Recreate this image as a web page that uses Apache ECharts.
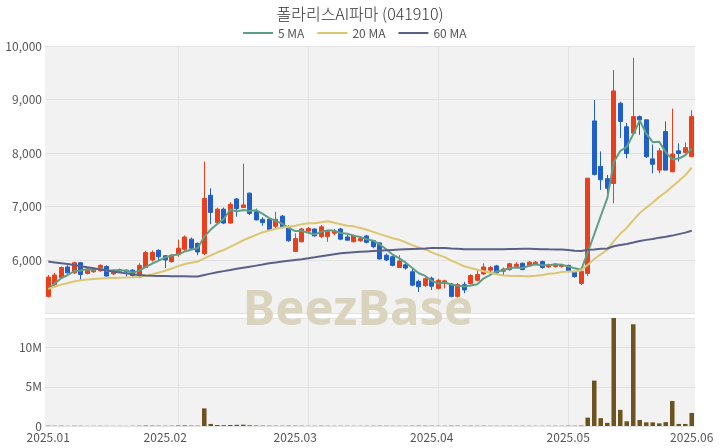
<!DOCTYPE html>
<html><head><meta charset="utf-8">
<script src="https://cdn.jsdelivr.net/npm/echarts@6/dist/echarts.min.js"></script>
<style>html,body{margin:0;padding:0;background:#fff}#c{width:720px;height:448px}</style>
</head><body><div id="c"></div>
<script>
const dates = [
'2025-01-02','2025-01-03','2025-01-06','2025-01-07','2025-01-08','2025-01-09','2025-01-10','2025-01-13','2025-01-14','2025-01-15',
'2025-01-16','2025-01-17','2025-01-20','2025-01-21','2025-01-22','2025-01-23','2025-01-24','2025-01-31',
'2025-02-03','2025-02-04','2025-02-05','2025-02-06','2025-02-07','2025-02-10','2025-02-11','2025-02-12','2025-02-13','2025-02-14',
'2025-02-17','2025-02-18','2025-02-19','2025-02-20','2025-02-21','2025-02-24','2025-02-25','2025-02-26','2025-02-27','2025-02-28',
'2025-03-03','2025-03-04','2025-03-05','2025-03-06','2025-03-07','2025-03-10','2025-03-11','2025-03-12','2025-03-13','2025-03-14',
'2025-03-17','2025-03-18','2025-03-19','2025-03-20','2025-03-21','2025-03-24','2025-03-25','2025-03-26','2025-03-27','2025-03-28','2025-03-31',
'2025-04-01','2025-04-02','2025-04-03','2025-04-04','2025-04-07','2025-04-08','2025-04-09','2025-04-10','2025-04-11','2025-04-14',
'2025-04-15','2025-04-16','2025-04-17','2025-04-18','2025-04-21','2025-04-22','2025-04-23','2025-04-24','2025-04-25','2025-04-28','2025-04-29',
'2025-05-02','2025-05-07','2025-05-08','2025-05-09','2025-05-12','2025-05-13','2025-05-14','2025-05-15','2025-05-16','2025-05-19',
'2025-05-20','2025-05-21','2025-05-22','2025-05-23','2025-05-26','2025-05-27','2025-05-28','2025-05-29','2025-05-30',
'2025-06-02'];

const opens = [5320,5540,5670,5870,5760,5950,5750,5780,5800,5880, 5740,5790,5810,5810,5680,5860,6000,6180,6080,5970,
6100,6200,6390,6310,6120,7210,6700,6950,6690,7140, 6980,7250,6900,6760,6760,6630,6820,6610,6160,6340,
6540,6580,6440,6440,6500,6580,6430,6340,6360,6450, 6360,6320,6090,6060,5860,5910,5780,5600,5520,5660,
5470,5560,5550,5320,5540,5560,5620,5740,5810,5890, 5790,5820,5880,5940,5890,5920,5970,5870,5880,5880,
5900,5780,5560,5750,8600,7750,7520,7430,8930,8490, 8370,8680,8620,7890,7680,8400,7650,8040,8010,7930];
const closes = [5680,5720,5860,5760,5950,5730,5830,5820,5900,5700, 5800,5820,5780,5710,5900,6140,6140,6060,6000,6090,
6220,6430,6220,6150,7150,6890,6950,6690,7040,6960, 7030,6870,6750,6700,6570,6760,6610,6360,6400,6580,
6590,6450,6620,6530,6540,6390,6370,6450,6400,6330, 6250,6020,6000,5900,5980,5850,5530,5500,5650,5510,
5620,5610,5320,5540,5440,5710,5730,5870,5860,5760, 5830,5930,5920,5820,5960,5960,5860,5910,5920,5910,
5790,5690,5790,7530,7600,7500,7340,9160,8590,7990, 8680,8620,7930,7790,8040,7680,7980,7990,8100,8680];
const lows = [5300,5500,5650,5750,5740,5630,5730,5760,5780,5690, 5720,5770,5690,5690,5660,5850,5970,5980,5850,5950,
6060,6170,6190,6090,6090,6670,6690,6670,6680,6810, 6980,6840,6740,6640,6560,6590,6590,6340,6150,6330,
6510,6440,6410,6340,6460,6370,6370,6330,6340,6310, 6220,6010,5980,5880,5850,5820,5510,5400,5500,5440,
5450,5470,5300,5300,5380,5540,5600,5720,5760,5740, 5720,5800,5870,5810,5880,5900,5840,5850,5860,5860,
5770,5670,5530,5700,7580,7310,7180,7060,8280,7900, 8340,8340,7910,7620,7620,7680,7640,7840,7990,7930];
const highs = [5720,5760,5880,5900,5970,5960,5860,5850,5920,5900, 5820,5840,5820,5830,5940,6170,6180,6200,6090,6110,
6380,6460,6420,6330,7840,7340,6980,6980,7080,7160, 7800,7260,6960,6800,6780,6900,6840,6650,6500,6600,
6620,6590,6650,6540,6580,6600,6480,6480,6440,6470, 6370,6330,6120,6080,6090,5940,5840,5630,5720,5690,
5650,5630,5570,5570,5590,5730,5820,5940,5890,5910, 5860,5950,5960,5950,5980,5980,5990,5930,5940,5930,
5910,5800,5810,7530,8990,8030,7590,9550,8960,8560, 9780,8700,8620,8160,8090,8590,8830,8180,8200,8800];

const volumes = [45000,30000,40000,25000,35000,30000,20000,25000,30000,25000,
20000,25000,20000,30000,40000,60000,50000,40000,35000,40000,
60000,80000,50000,40000,2250000,260000,130000,110000,130000,150000,
170000,90000,60000,50000,45000,40000,35000,50000,40000,35000,
30000,30000,35000,30000,25000,30000,30000,25000,25000,30000,
30000,40000,35000,30000,30000,30000,40000,45000,40000,35000,
30000,30000,45000,40000,35000,40000,35000,40000,30000,30000,
30000,35000,30000,30000,30000,25000,25000,30000,30000,30000,
40000,40000,60000,1070000,5800000,1000000,400000,13800000,2060000,600000,
13000000,770000,470000,470000,340000,500000,3200000,260000,260000,1670000];

const ma5 = [5450,5560,5660,5720,5794,5804,5826,5818,5846,5796, 5810,5808,5800,5762,5802,5870,5934,5990,6048,6086,
6102,6160,6192,6222,6434,6568,6672,6766,6944,6906, 6934,6918,6930,6862,6784,6730,6678,6600,6540,6542,
6508,6476,6528,6554,6546,6506,6490,6456,6430,6388, 6360,6290,6200,6100,6030,5950,5852,5752,5702,5608,
5562,5578,5542,5520,5506,5524,5548,5658,5722,5786, 5810,5850,5860,5852,5892,5918,5904,5902,5922,5912,
5878,5844,5820,6142,6480,6822,7152,7826,8038,8116, 8352,8608,8362,8202,8212,8012,7884,7896,7958,8086];
const ma20 = [5460,5500,5540,5570,5600,5620,5635,5645,5652,5658, 5663,5668,5672,5678,5689,5705,5730,5765,5800,5840,
5885,5925,5950,5970,6030,6088,6144,6187,6244,6307, 6369,6421,6470,6519,6553,6584,6607,6622,6642,6667,
6685,6686,6706,6725,6695,6670,6641,6629,6597,6565, 6526,6484,6446,6406,6377,6331,6277,6234,6197,6143,
6095,6053,5988,5938,5883,5849,5817,5788,5761,5733, 5712,5707,5703,5699,5698,5704,5720,5741,5754,5774,
5783,5787,5810,5910,6018,6107,6188,6352,6489,6600, 6743,6877,6978,7076,7180,7266,7372,7476,7585,7724];
const ma60 = [5970,5955,5940,5925,5905,5885,5865,5845,5825,5805, 5785,5765,5750,5735,5720,5712,5706,5702,5700,5698,
5696,5694,5692,5692,5720,5745,5770,5792,5813,5835, 5855,5875,5895,5915,5938,5955,5970,5985,6000,6015,
6031,6050,6070,6090,6108,6125,6135,6145,6153,6161, 6168,6175,6182,6188,6194,6200,6205,6210,6215,6226,
6225,6224,6215,6211,6202,6202,6200,6201,6201,6202, 6202,6204,6206,6208,6209,6206,6201,6199,6198,6195,
6187,6175,6168,6191,6198,6209,6215,6256,6282,6299, 6327,6356,6376,6394,6418,6434,6456,6484,6512,6547];

const titleText = '폴라리스AI파마 (041910)';
const maNames = ['5 MA', '20 MA', '60 MA'];

const candles = dates.map((d, i) => [opens[i], closes[i], lows[i], highs[i]]);
const isMonthStart = (idx) => idx === 0 || dates[idx].slice(0, 7) !== dates[idx - 1].slice(0, 7);
const vLine = (idx) => idx > 0 && idx % 20 === 0;
const FONT = '"Noto Sans CJK KR", "Noto Sans", sans-serif';

const chart = echarts.init(document.getElementById('c'), null, {renderer: 'canvas'});
chart.setOption({
  animation: false,
  backgroundColor: '#ffffff',
  textStyle: {fontFamily: FONT},
  title: {text: titleText, left: 'center', top: 1,
    textStyle: {fontSize: 16, fontWeight: 300, color: '#333', fontFamily: FONT}},
  legend: {data: maNames, top: 22, left: 238, icon: 'rect', itemWidth: 30, itemHeight: 2, itemGap: 13,
    textStyle: {fontSize: 12, color: '#555'}},
  graphic: [{type: 'text', z: 1, silent: true,
    style: {text: 'BeezBase', x: 358, y: 311, textAlign: 'center', textVerticalAlign: 'middle',
      font: 'bold 49px "Noto Sans", sans-serif', fill: '#dad3bd'}}],
  grid: [
    {left: 45, right: 25, top: 46, height: 267.5, show: true, backgroundColor: '#f2f2f2', borderWidth: 0},
    {left: 45, right: 25, top: 318, height: 108, show: true, backgroundColor: '#f2f2f2', borderWidth: 0}
  ],
  xAxis: [
    {type: 'category', gridIndex: 0, data: dates, boundaryGap: true,
      axisLine: {show: false}, axisTick: {show: false}, axisLabel: {show: false},
      splitLine: {show: true, interval: (i) => vLine(i), alignWithLabel: true, lineStyle: {color: '#e2e2e2', width: 1}}},
    {type: 'category', gridIndex: 1, data: dates, boundaryGap: true,
      axisLine: {show: false}, axisTick: {show: false},
      axisLabel: {show: true, interval: (i) => isMonthStart(i), color: '#555', fontSize: 12, margin: 5,
        formatter: (v) => v.slice(0, 4) + '.' + v.slice(5, 7)},
      splitLine: {show: true, interval: (i) => vLine(i), alignWithLabel: true, lineStyle: {color: '#e2e2e2', width: 1}}}
  ],
  yAxis: [
    {type: 'value', gridIndex: 0, min: 5000, max: 10000, interval: 1000, position: 'left',
      axisLine: {show: false}, axisTick: {show: false},
      axisLabel: {color: '#555', fontSize: 12, margin: 3, showMinLabel: false,
        formatter: (v) => v.toLocaleString('en-US')},
      splitLine: {lineStyle: {color: '#e2e2e2', width: 1}}},
    {type: 'value', gridIndex: 1, min: 0, max: 'dataMax', interval: 5000000, position: 'left',
      axisLine: {show: false}, axisTick: {show: false},
      axisLabel: {color: '#555', fontSize: 12, margin: 3, showMaxLabel: false,
        formatter: (v) => v === 0 ? '0' : (v / 1000000) + 'M'},
      splitLine: {lineStyle: {color: '#e2e2e2', width: 1}}}
  ],
  series: [
    {type: 'candlestick', name: 'price', xAxisIndex: 0, yAxisIndex: 0, data: candles, barWidth: '70%', z: 3,
      itemStyle: {color: '#e8401c', color0: '#1f5fc7', borderColor: '#e8401c', borderColor0: '#1f5fc7', borderWidth: 1}},
    {type: 'line', name: maNames[0], xAxisIndex: 0, yAxisIndex: 0, data: ma5, symbol: 'none', z: 4,
      lineStyle: {color: '#5f9f86', width: 2}, itemStyle: {color: '#5f9f86'}},
    {type: 'line', name: maNames[1], xAxisIndex: 0, yAxisIndex: 0, data: ma20, symbol: 'none', z: 4,
      lineStyle: {color: '#dcc672', width: 2}, itemStyle: {color: '#dcc672'}},
    {type: 'line', name: maNames[2], xAxisIndex: 0, yAxisIndex: 0, data: ma60, symbol: 'none', z: 4,
      lineStyle: {color: '#5b6186', width: 2}, itemStyle: {color: '#5b6186'}},
    {type: 'bar', name: 'volume', xAxisIndex: 1, yAxisIndex: 1, data: volumes, barWidth: '70%', z: 3,
      itemStyle: {color: '#6d5320'}}
  ]
});
</script>
</body></html>
